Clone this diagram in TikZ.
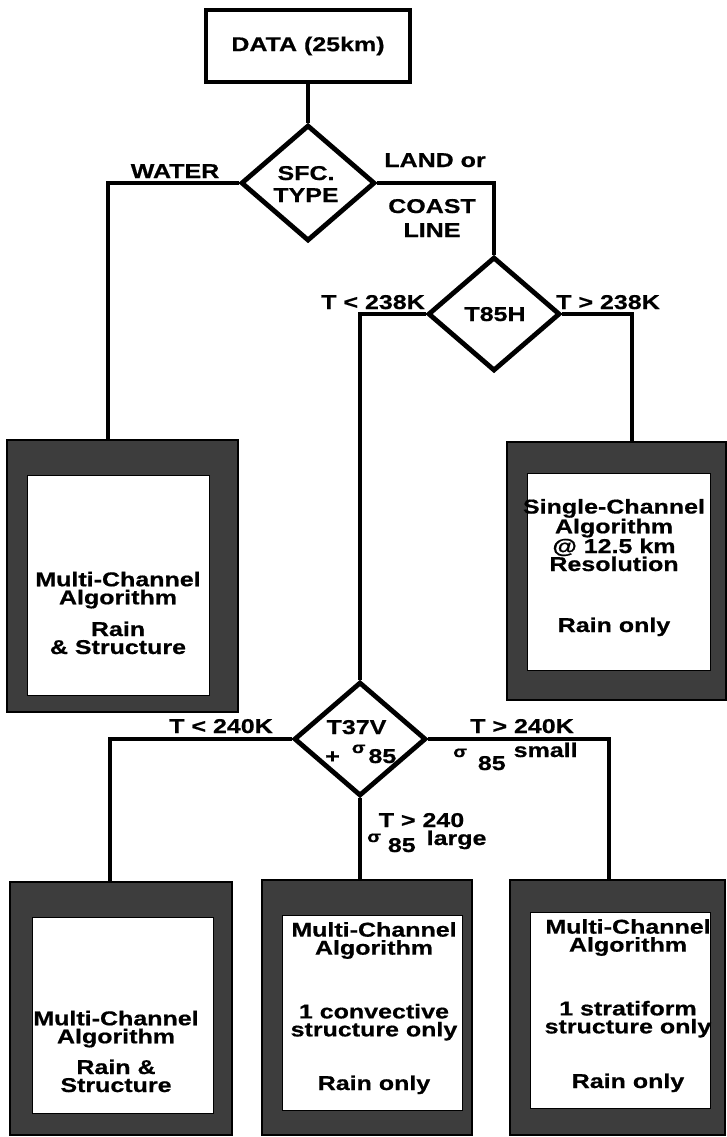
\documentclass[tikz,border=0pt]{standalone}
\usepackage{fontspec}
\newfontfamily\dfont[FakeStretch=1.25,FakeBold=0.6]{Liberation Sans}
\usetikzlibrary{shapes.geometric}
\begin{document}
\begin{tikzpicture}[x=1pt,y=-1pt,
  txt/.style={font=\dfont\bfseries\fontsize{20}{18}\selectfont, inner sep=0pt, anchor=base, align=center},
  decision/.style={diamond, draw, line width=4.8pt, inner sep=0pt, line join=miter},
  conn/.style={line width=3.2pt, line join=miter},
  frame/.style={rectangle, draw, line width=2.5pt, fill=black!76, inner sep=0pt},
  inner/.style={fill=white, draw=black, line width=0.8pt},
  startbox/.style={rectangle, draw, line width=3.8pt, inner sep=0pt, minimum width=204pt, minimum height=72pt,
     font=\dfont\bfseries\fontsize{20}{18}\selectfont}
]
\useasboundingbox (0,0) rectangle (727,1137);
\newcommand{\sg}{{\fontsize{16}{16}\selectfont σ}}

% start box
\node[startbox] (data) at (308,46) {DATA (25km)};

% decisions
\node[decision, minimum width=134pt, minimum height=116pt] (sfc) at (308,183) {};
\node[decision, minimum width=132pt, minimum height=114pt] (t85) at (494,314) {};
\node[decision, minimum width=132pt, minimum height=114pt] (t37) at (360,739) {};

% result boxes
\node[frame, minimum width=231pt, minimum height=272pt] (boxA) at (122.5,576) {};
\draw[inner] (27,475) rectangle (209,695);
\node[frame, minimum width=219pt, minimum height=258pt] (boxB) at (616.5,571) {};
\draw[inner] (527,473) rectangle (710,670);
\node[frame, minimum width=222pt, minimum height=253pt] (boxC) at (121,1008.5) {};
\draw[inner] (32,917) rectangle (213,1113);
\node[frame, minimum width=210pt, minimum height=255pt] (boxD) at (367,1007.5) {};
\draw[inner] (282,915) rectangle (462,1110);
\node[frame, minimum width=215pt, minimum height=255pt] (boxE) at (617.5,1007.5) {};
\draw[inner] (530,912) rectangle (710,1108);

% connector end points on box tops
\coordinate (aIn) at (108,440);
\coordinate (bIn) at (632,442);
\coordinate (cIn) at (110,882);
\coordinate (eIn) at (609,880);

% connectors
\draw[conn] (data.south) -- (sfc.north);
\draw[conn] (sfc.west) -| (aIn);
\draw[conn] (sfc.east) -| (t85.north);
\draw[conn] (t85.west) -| (t37.north);
\draw[conn] (t85.east) -| (bIn);
\draw[conn] (t37.west) -| (cIn);
\draw[conn] (t37.south) -- (t37.south |- boxD.north);
\draw[conn] (t37.east) -| (eIn);

% decision texts (base = last line)
\node[txt] (sfcT) at (306,202) {SFC.\\[4pt]TYPE};
\node[txt] (t85T) at (495,321) {T85H};
\node[txt] (t37T) at (356.5,734) {T37V};
\node[txt, anchor=base west] (t37S) at (325,763) {+\hspace{12pt}\raisebox{10pt}{\sg}\hspace{3pt}85};

% branch labels
\node[txt] (lWater) at (175,178) {WATER};
\node[txt] (lLand) at (435,167) {LAND or};
\node[txt] (lCoast) at (432,237) {COAST\\[6pt]LINE};
\node[txt] (lLt238) at (373,309) {T < 238K};
\node[txt] (lGt238) at (608,309) {T > 238K};
\node[txt] (lLt240) at (221,733) {T < 240K};
\node[txt] (lGt240) at (522,733) {T > 240K};
\node[txt, anchor=base west] (lSmall) at (453,757) {\sg\hspace{11pt}\raisebox{-13pt}{85}\hspace{8pt}small};
\node[txt] (lGt240b) at (421.5,827) {T > 240};
\node[txt, anchor=base west] (lLarge) at (367,845) {\raisebox{3pt}{\sg}\hspace{7pt}\raisebox{-7pt}{85}\hspace{11pt}large};

% box texts (base = last line)
\node[txt] (tA) at (118,654) {Multi-Channel\\Algorithm\\[12pt]Rain\\\& Structure};
\node[txt] (tB) at (614,632) {Single-Channel\\Algorithm\\@ 12.5 km\\Resolution\\[43pt]Rain only};
\node[txt] (tC) at (116,1092) {Multi-Channel\\Algorithm\\[11pt]Rain \&\\Structure};
\node[txt] (tD) at (374,1090) {Multi-Channel\\Algorithm\\[44pt]1 convective\\structure only\\[34pt]Rain only};
\node[txt] (tE) at (628,1088) {Multi-Channel\\Algorithm\\[44pt]1 stratiform\\structure only\\[35pt]Rain only};
\end{tikzpicture}
\end{document}
